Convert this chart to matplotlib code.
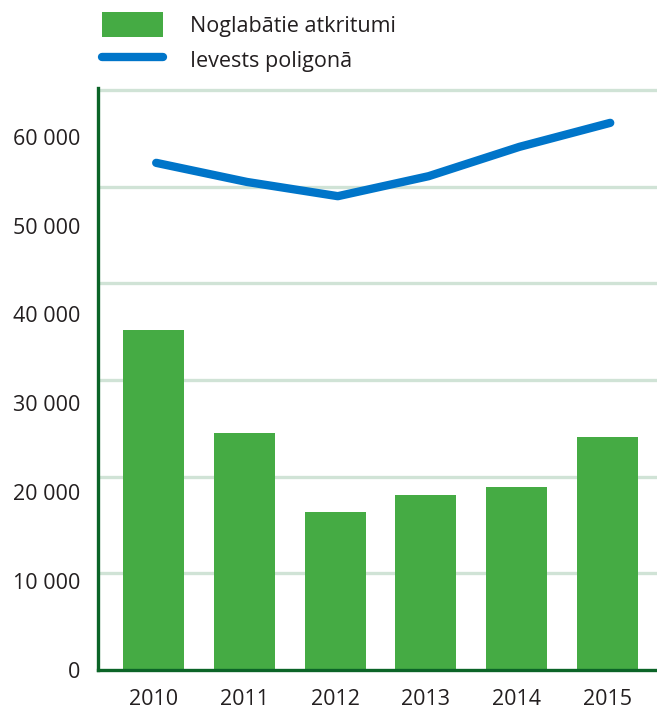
import matplotlib
matplotlib.use("Agg")
import matplotlib.pyplot as plt
import numpy as np

years = ["2010", "2011", "2012", "2013", "2014", "2015"]
noglabatie = [38200, 26650, 17800, 19700, 20600, 26200]
ievests = [57050, 54900, 53300, 55550, 58850, 61550]
ytick_values = [0, 10000, 20000, 30000, 40000, 50000, 60000]
ytick_labels = ["0", "10 000", "20 000", "30 000", "40 000", "50 000", "60 000"]
series_names = ["Noglabātie atkritumi", "Ievests poligonā"]

plt.rcParams['font.family'] = ['Open Sans', 'DejaVu Sans']
TEXT = "#231f20"
GREEN = "#45ab44"
BLUE = "#0075c9"
DARK = "#0b6427"
GRID = "#d0e3d6"
FS = 15.5

fig = plt.figure(figsize=(6.57, 7.10), dpi=100)
ax = fig.add_axes([98/657, 40/710, 1 - 98/657, (670-88)/710])

x = np.arange(len(years))
bars = ax.bar(x, noglabatie, width=0.67, color=GREEN, zorder=3, label=series_names[0])
line, = ax.plot(x + 0.03, ievests, color=BLUE, lw=6, solid_capstyle='round',
                solid_joinstyle='round', zorder=4, label=series_names[1])

ax.set_xlim(-0.611, 5.545)
ax.set_ylim(0, 65470)

grid_step = 10877
for k in range(1, 7):
    ax.axhline(k * grid_step, color=GRID, lw=2.4, zorder=1)

ax.set_yticks(ytick_values)
ax.set_yticklabels(ytick_labels)
ax.set_xticks(x)
ax.set_xticklabels(years)
ax.tick_params(axis='both', length=0, labelsize=FS, colors=TEXT)
ax.tick_params(axis='y', pad=13)
ax.tick_params(axis='x', pad=14)

for s in ['top', 'right']:
    ax.spines[s].set_visible(False)
for s in ['left', 'bottom']:
    ax.spines[s].set_color(DARK)
    ax.spines[s].set_linewidth(2.4)
    ax.spines[s].set_zorder(5)

leg = fig.legend(handles=[bars, line], labels=series_names, loc='upper left',
                 bbox_to_anchor=(102/657, 1 - 12/710), frameon=False,
                 fontsize=FS, handlelength=2.84, handleheight=1.4,
                 handletextpad=1.25, labelspacing=0.5, borderpad=0, borderaxespad=0)
for t in leg.get_texts():
    t.set_color(TEXT)

fig.savefig("out.png", dpi=100)
